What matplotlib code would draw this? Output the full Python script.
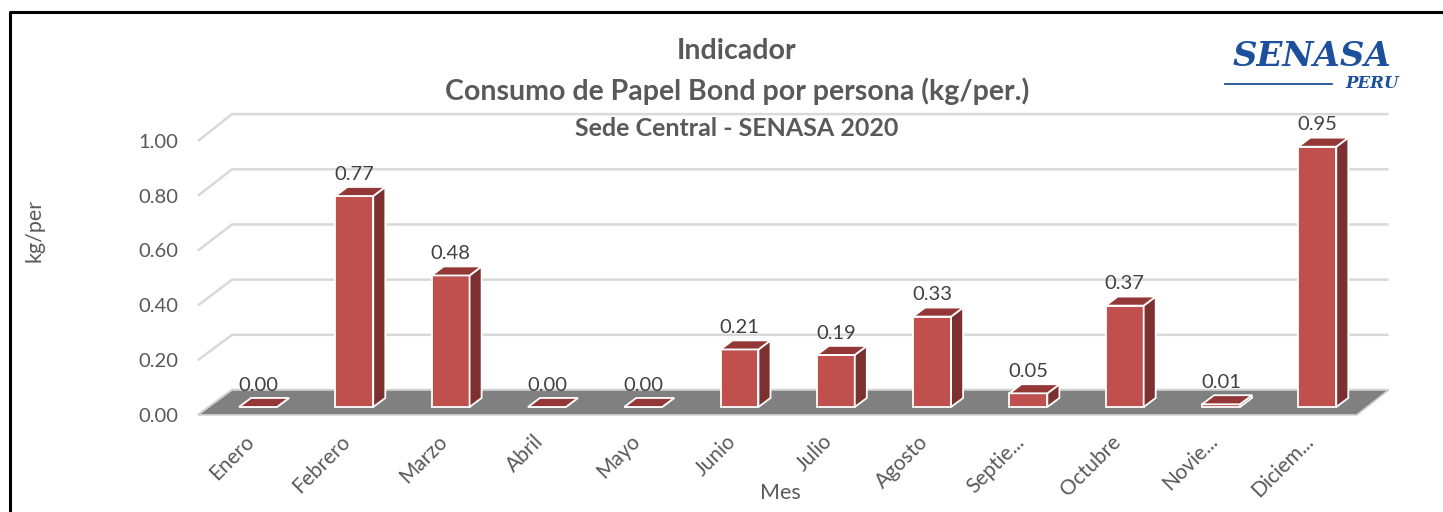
import matplotlib
matplotlib.use('Agg')
import matplotlib.pyplot as plt
import matplotlib.patches as mpatches
import numpy as np

months = ["Enero", "Febrero", "Marzo", "Abril", "Mayo", "Junio",
          "Julio", "Agosto", "Septie...", "Octubre", "Novie...", "Diciem..."]
values = [0.00, 0.77, 0.48, 0.00, 0.00, 0.21, 0.19, 0.33, 0.05, 0.37, 0.01, 0.95]
yticks = [0.0, 0.2, 0.4, 0.6, 0.8, 1.0]

FONT = "Lato"
TXT = "#595959"
FRONT = "#c0504d"
SIDE = "#7d3030"
TOP = "#933836"

W, H = 1443, 512
fig = plt.figure(figsize=(W / 100, H / 100), dpi=100)
ax = fig.add_axes([0, 0, 1, 1])
ax.set_axis_off()

# category index / value space, placed so the bars land where the reference has them
x0_px, dx_px = 258, 96.3
y0_px, dy_px = 407, 274
ax.set_xlim(-x0_px / dx_px, (W - x0_px) / dx_px)
ax.set_ylim((y0_px - H) / dy_px, y0_px / dy_px)

# pseudo 3D geometry (in data units)
half_w = 0.197
depth_x, depth_y = 0.125, 0.033
floor_front, floor_back = -0.029, 0.062
floor_l_front, floor_l_back = -0.623, -0.27
floor_r_front, floor_r_back = 11.41, 11.74
wall_scale = 1.007

# gridlines on the back wall with the slanted part on the left side wall
for t in yticks:
    yb = floor_back + wall_scale * t
    yf = floor_front + t
    ax.plot([floor_l_front, floor_l_back, floor_r_back], [yf, yb, yb],
            color="#d9d9d9", lw=1.8, zorder=1, solid_capstyle="butt")
    ax.text(-0.83, yf - 0.005, f"{t:.2f}", ha="right", va="center",
            fontsize=14.5, color=TXT, family=FONT)

# floor
floor = mpatches.Polygon([(floor_l_front, floor_front), (floor_r_front, floor_front),
                          (floor_r_back, floor_back), (floor_l_back, floor_back)],
                         closed=True, facecolor="#808080", edgecolor="#d0d0d0",
                         lw=1.2, zorder=2)
ax.add_patch(floor)

# bars
for i, v in enumerate(values):
    xl, xr = i - half_w, i + half_w
    front = mpatches.Polygon([(xl, 0), (xr, 0), (xr, v), (xl, v)], closed=True,
                             facecolor=FRONT, edgecolor="white", lw=1.3, zorder=3)
    side = mpatches.Polygon([(xr, 0), (xr + depth_x, depth_y), (xr + depth_x, v + depth_y),
                             (xr, v)], closed=True,
                            facecolor=SIDE, edgecolor="white", lw=1.3, zorder=3)
    top = mpatches.Polygon([(xl, v), (xr, v), (xr + depth_x, v + depth_y),
                            (xl + depth_x, v + depth_y)], closed=True,
                           facecolor=TOP, edgecolor="white", lw=1.3, zorder=4)
    for p in (front, side, top):
        ax.add_patch(p)
    ax.text(i, v + 0.08, f"{v:.2f}", ha="center", va="center",
            fontsize=14.5, color="#404040", family=FONT, zorder=5)
    ax.text(i - 0.07, -0.115, months[i], rotation=45, rotation_mode="anchor",
            ha="right", va="center", fontsize=15, color=TXT, family=FONT)

# axis titles
fig.text(780 / W, 1 - 493 / H, "Mes", ha="center", va="center",
         fontsize=15.5, color=TXT, family=FONT)
fig.text(35 / W, 1 - 230 / H, "kg/per", ha="center", va="center", rotation=90,
         fontsize=15.5, color=TXT, family=FONT)

# chart title
fig.text(737 / W, 1 - 51 / H, "Indicador", ha="center", va="center",
         fontsize=20.5, fontweight="bold", color=TXT, family=FONT)
fig.text(737 / W, 1 - 91 / H, "Consumo de Papel Bond por persona (kg/per.)",
         ha="center", va="center", fontsize=20.5, fontweight="bold", color=TXT, family=FONT)
fig.text(737 / W, 1 - 128 / H, "Sede Central - SENASA 2020", ha="center", va="center",
         fontsize=18, fontweight="bold", color=TXT, family=FONT)

# SENASA logo
blue = "#1c4f9c"
fig.text(1312 / W, 1 - 57 / H, "SENASA", ha="center", va="center", fontsize=24.5,
         fontweight="bold", fontstyle="italic", color=blue, family="DejaVu Serif")
fig.text(1399 / W, 1 - 84 / H, "PERU", ha="right", va="center", fontsize=12,
         fontweight="bold", fontstyle="italic", color=blue, family="DejaVu Serif")
fig.add_artist(plt.Line2D([1225 / W, 1332 / W], [1 - 84 / H, 1 - 84 / H],
                          color=blue, lw=1.3))

# outer frame (only top and left edges are inside the picture)
fig.add_artist(plt.Line2D([10 / W, 10 / W, 1.0], [0.0, 1 - 12 / H, 1 - 12 / H],
                          color="black", lw=2.2))

fig.savefig("out.png", dpi=100, facecolor="white")
